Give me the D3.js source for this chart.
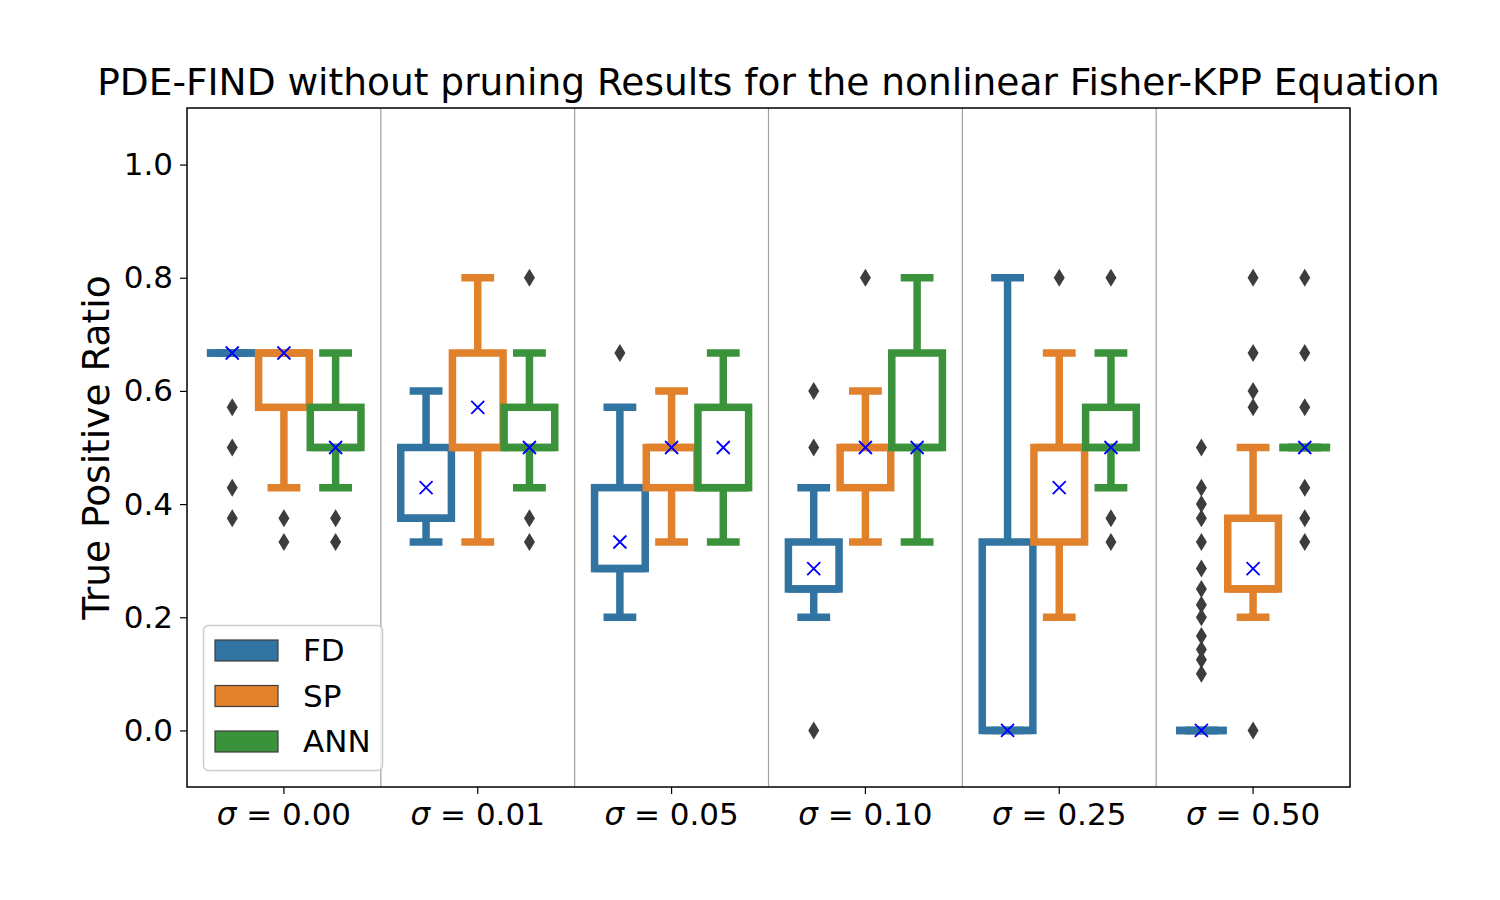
<!DOCTYPE html>
<html>
<head>
<meta charset="utf-8">
<script src="https://cdn.jsdelivr.net/npm/d3@7"></script>
<style>
  body { margin: 0; background: #fff; }
  svg text { font-family: "DejaVu Sans", sans-serif; }
</style>
</head>
<body>
<svg id="chart" width="1500" height="900"></svg>
<script>
// ---------- data ----------
const noiseLevels = ["0.00", "0.01", "0.05", "0.10", "0.25", "0.50"];
const methods = ["FD", "SP", "ANN"];
const methodColors = ["#3274a1", "#e1812c", "#3a923a"];
const yTicks = [0.0, 0.2, 0.4, 0.6, 0.8, 1.0];

// FD
const fdQ1   = [0.667, 0.375, 0.286, 0.25, 0.0, 0.0];
const fdMed  = [0.667, 0.375, 0.286, 0.25, 0.0, 0.0];
const fdQ3   = [0.667, 0.5, 0.429, 0.333, 0.333, 0.0];
const fdLo   = [0.667, 0.333, 0.2, 0.2, 0.0, 0.0];
const fdHi   = [0.667, 0.6, 0.571, 0.429, 0.8, 0.0];
const fdMean = [0.667, 0.429, 0.333, 0.286, 0.0, 0.0];
const fdOut  = [[0.571, 0.5, 0.429, 0.375], [], [0.667], [0.6, 0.5, 0.0], [],
                [0.5, 0.429, 0.4, 0.375, 0.333, 0.286, 0.25, 0.222, 0.2, 0.167, 0.143, 0.125, 0.1]];
// SP
const spQ1   = [0.571, 0.5, 0.429, 0.429, 0.333, 0.25];
const spMed  = [0.667, 0.5, 0.5, 0.5, 0.5, 0.25];
const spQ3   = [0.667, 0.667, 0.5, 0.5, 0.5, 0.375];
const spLo   = [0.429, 0.333, 0.333, 0.333, 0.2, 0.2];
const spHi   = [0.667, 0.8, 0.6, 0.6, 0.667, 0.5];
const spMean = [0.667, 0.571, 0.5, 0.5, 0.429, 0.286];
const spOut  = [[0.375, 0.333], [], [], [0.8], [0.8], [0.8, 0.667, 0.6, 0.571, 0.0]];
// ANN
const annQ1   = [0.5, 0.5, 0.429, 0.5, 0.5, 0.5];
const annMed  = [0.5, 0.5, 0.429, 0.5, 0.5, 0.5];
const annQ3   = [0.571, 0.571, 0.571, 0.667, 0.571, 0.5];
const annLo   = [0.429, 0.429, 0.333, 0.333, 0.429, 0.5];
const annHi   = [0.667, 0.667, 0.667, 0.8, 0.667, 0.5];
const annMean = [0.5, 0.5, 0.5, 0.5, 0.5, 0.5];
const annOut  = [[0.375, 0.333], [0.8, 0.375, 0.333], [], [], [0.8, 0.375, 0.333],
                 [0.8, 0.667, 0.571, 0.429, 0.375, 0.333]];

const series = [
  {q1: fdQ1, med: fdMed, q3: fdQ3, lo: fdLo, hi: fdHi, mean: fdMean, out: fdOut},
  {q1: spQ1, med: spMed, q3: spQ3, lo: spLo, hi: spHi, mean: spMean, out: spOut},
  {q1: annQ1, med: annMed, q3: annQ3, lo: annLo, hi: annHi, mean: annMean, out: annOut}
];

// ---------- layout ----------
const L = 187, R = 1350, T = 108, B = 787;
const svg = d3.select("#chart");

const x = d3.scaleBand().domain(noiseLevels).range([L, R]).padding(0);
const hue = d3.scaleBand().domain(methods).range([-0.4, 0.4]); // fraction of group width
const y = d3.scaleLinear().domain([-0.1, 1.1]).range([B, T]);

const gw = x.bandwidth();
const boxW = gw * hue.bandwidth() * 0.98;
const lw = 7.5;
const outlierColor = "#3d3d3d";
const tickFont = 31;
const bigFont = 37.5;

// separators
svg.append("g").selectAll("line").data(noiseLevels.slice(1)).join("line")
  .attr("x1", d => x(d)).attr("x2", d => x(d))
  .attr("y1", T).attr("y2", B)
  .attr("stroke", "#a0a0a0").attr("stroke-width", 1.2);

const plot = svg.append("g");

noiseLevels.forEach((lvl, i) => {
  methods.forEach((m, j) => {
    const s = series[j];
    const cx = x(lvl) + gw / 2 + (hue(m) + hue.bandwidth() / 2) * gw;
    const col = methodColors[j];
    const g = plot.append("g");
    // whiskers
    g.append("line").attr("x1", cx).attr("x2", cx)
      .attr("y1", y(s.q1[i])).attr("y2", y(s.lo[i]))
      .attr("stroke", col).attr("stroke-width", lw);
    g.append("line").attr("x1", cx).attr("x2", cx)
      .attr("y1", y(s.q3[i])).attr("y2", y(s.hi[i]))
      .attr("stroke", col).attr("stroke-width", lw);
    // box
    const h = y(s.q1[i]) - y(s.q3[i]);
    if (h > 0.5) {
      g.append("rect").attr("x", cx - boxW / 2).attr("y", y(s.q3[i]))
        .attr("width", boxW).attr("height", h)
        .attr("fill", "#fff").attr("stroke", col).attr("stroke-width", lw)
        .attr("stroke-linejoin", "miter");
    } else {
      g.append("line").attr("x1", cx - boxW / 2).attr("x2", cx + boxW / 2)
        .attr("y1", y(s.q3[i])).attr("y2", y(s.q3[i]))
        .attr("stroke", col).attr("stroke-width", lw);
    }
    // caps
    [s.lo[i], s.hi[i]].forEach(v => {
      g.append("line").attr("x1", cx - boxW / 4).attr("x2", cx + boxW / 4)
        .attr("y1", y(v)).attr("y2", y(v))
        .attr("stroke", col).attr("stroke-width", lw).attr("stroke-linecap", "square");
    });
    // median
    g.append("line").attr("x1", cx - boxW / 2).attr("x2", cx + boxW / 2)
      .attr("y1", y(s.med[i])).attr("y2", y(s.med[i]))
      .attr("stroke", col).attr("stroke-width", lw);
    // outliers (thin diamonds)
    g.selectAll("path.out").data(s.out[i]).join("path").attr("class", "out")
      .attr("d", d => {
        const py = y(d), hw = 5.5, hh = 9;
        return `M${cx},${py - hh}L${cx + hw},${py}L${cx},${py + hh}L${cx - hw},${py}Z`;
      })
      .attr("fill", outlierColor);
  });
});

// means on top
noiseLevels.forEach((lvl, i) => {
  methods.forEach((m, j) => {
    const cx = x(lvl) + gw / 2 + (hue(m) + hue.bandwidth() / 2) * gw;
    const py = y(series[j].mean[i]);
    const r = 6.5;
    svg.append("path")
      .attr("d", `M${cx - r},${py - r}L${cx + r},${py + r}M${cx - r},${py + r}L${cx + r},${py - r}`)
      .attr("stroke", "#0000ff").attr("stroke-width", 1.8).attr("fill", "none");
  });
});

// frame
svg.append("rect").attr("x", L).attr("y", T).attr("width", R - L).attr("height", B - T)
  .attr("fill", "none").attr("stroke", "#000").attr("stroke-width", 1.5);

// y axis
const yAxis = svg.append("g").attr("transform", `translate(${L},0)`)
  .call(d3.axisLeft(y).tickValues(yTicks).tickFormat(d3.format(".1f")).tickSize(7).tickPadding(7));
yAxis.select(".domain").remove();
yAxis.selectAll("line").attr("stroke", "#000").attr("stroke-width", 1.2);
yAxis.selectAll("text").attr("font-size", tickFont).attr("fill", "#000")
  .attr("font-family", "DejaVu Sans");

// x axis
const xAxis = svg.append("g").attr("transform", `translate(0,${B})`)
  .call(d3.axisBottom(x).tickSize(7).tickPadding(8).tickFormat(""));
xAxis.select(".domain").remove();
xAxis.selectAll("line").attr("stroke", "#000").attr("stroke-width", 1.2);
xAxis.selectAll(".tick").each(function(d) {
  const t = d3.select(this).append("text")
    .attr("y", 38).attr("text-anchor", "middle").attr("font-size", tickFont)
    .attr("fill", "#000").attr("font-family", "DejaVu Sans");
  t.append("tspan").attr("font-style", "italic").text("σ");
  t.append("tspan").text(" = " + d);
});

// y label
svg.append("text")
  .attr("transform", `translate(109,${(T + B) / 2}) rotate(-90)`)
  .attr("text-anchor", "middle").attr("font-size", bigFont).attr("fill", "#000")
  .text("True Positive Ratio");

// title
svg.append("text").attr("x", (L + R) / 2).attr("y", 95)
  .attr("text-anchor", "middle").attr("font-size", bigFont).attr("fill", "#000")
  .text("PDE-FIND without pruning Results for the nonlinear Fisher-KPP Equation");

// legend
const lg = svg.append("g");
lg.append("rect").attr("x", 203.5).attr("y", 625.5).attr("width", 179).attr("height", 145)
  .attr("rx", 5).attr("fill", "#fff").attr("fill-opacity", 0.8)
  .attr("stroke", "#cccccc").attr("stroke-width", 1.5);
methods.forEach((m, j) => {
  const yy = 640 + j * 45.5;
  lg.append("rect").attr("x", 215).attr("y", yy).attr("width", 63).attr("height", 21)
    .attr("fill", methodColors[j]).attr("stroke", "#3d3d3d").attr("stroke-width", 1.2);
  lg.append("text").attr("x", 303).attr("y", yy + 21).attr("font-size", tickFont)
    .attr("fill", "#000").text(m);
});
</script>
</body>
</html>
